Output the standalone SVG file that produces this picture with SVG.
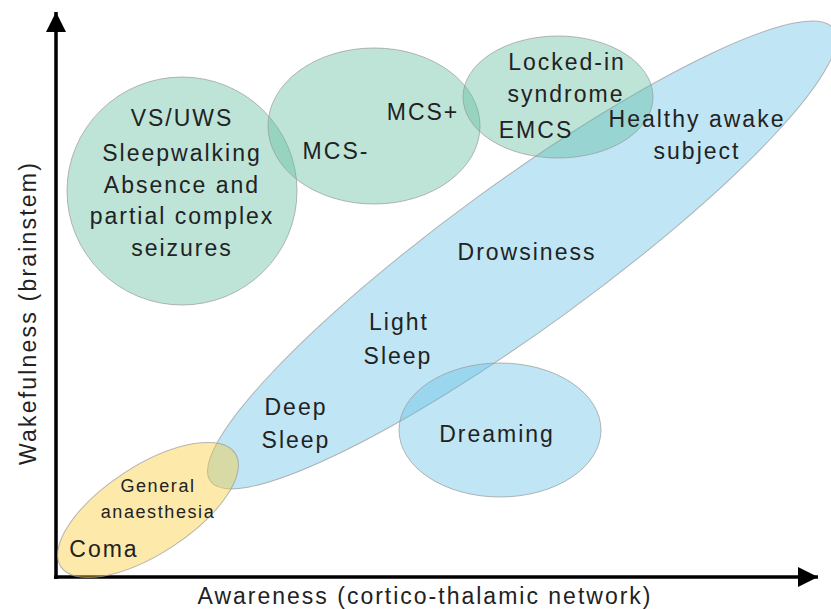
<svg xmlns="http://www.w3.org/2000/svg" width="831" height="609" viewBox="0 0 831 609">
<style>
.g{fill:#5dbc9e;fill-opacity:0.4;stroke:#999;stroke-width:1;stroke-opacity:0.7}
.b{fill:#62c1e6;fill-opacity:0.4;stroke:#999;stroke-width:1;stroke-opacity:0.7}
.y{fill:#fac82b;fill-opacity:0.4;stroke:#999;stroke-width:1;stroke-opacity:0.7}
text{font-family:"Liberation Sans",Arial,sans-serif;fill:#222;text-anchor:middle}
.t{font-size:23px;letter-spacing:2px}
.s{font-size:18px;letter-spacing:1.6px}
.ax{stroke:#000;stroke-width:3.5;fill:none}
</style>
<defs>
<marker id="ah" viewBox="0 0 10 10" refX="10" refY="5" markerWidth="20" markerHeight="22" markerUnits="userSpaceOnUse" orient="auto">
<path d="M0,0 L10,5 L0,10 Z" fill="#000"/>
</marker>
</defs>
<g id="axes">
<line class="ax" x1="56" y1="579" x2="56" y2="12" marker-end="url(#ah)"/>
<line class="ax" x1="54" y1="577" x2="818" y2="577" marker-end="url(#ah)"/>
</g>
<g id="healthy-band">
<ellipse class="b" cx="522" cy="255" rx="385" ry="73" transform="rotate(-36 522 255)"/>
</g>
<g id="vs-uws">
<ellipse class="g" cx="182" cy="191" rx="115" ry="114"/>
</g>
<g id="mcs">
<ellipse class="g" cx="374" cy="126" rx="106" ry="78"/>
</g>
<g id="locked-in">
<ellipse class="g" cx="558" cy="97" rx="95" ry="61"/>
</g>
<g id="dreaming">
<ellipse class="b" cx="500" cy="430" rx="101" ry="67"/>
</g>
<g id="anaesthesia">
<ellipse class="y" cx="148" cy="510" rx="104" ry="44" transform="rotate(-33 148 510)"/>
</g>
<g id="labels">
<text class="t" x="182" y="126">VS/UWS</text>
<text class="t" x="182" y="161">Sleepwalking</text>
<text class="t" x="182" y="193">Absence and</text>
<text class="t" x="182" y="224">partial complex</text>
<text class="t" x="182" y="256">seizures</text>
<text class="t" x="336" y="159">MCS-</text>
<text class="t" x="423" y="120">MCS+</text>
<text class="t" x="567" y="70">Locked-in</text>
<text class="t" x="566" y="102">syndrome</text>
<text class="t" x="536" y="138">EMCS</text>
<text class="t" x="697" y="127">Healthy awake</text>
<text class="t" x="697" y="159">subject</text>
<text class="t" x="527" y="260">Drowsiness</text>
<text class="t" x="399" y="330">Light</text>
<text class="t" x="398" y="364">Sleep</text>
<text class="t" x="296" y="415">Deep</text>
<text class="t" x="296" y="448">Sleep</text>
<text class="t" x="497" y="442">Dreaming</text>
<text class="s" x="158" y="492">General</text>
<text class="s" x="158" y="518">anaesthesia</text>
<text class="t" x="104" y="557">Coma</text>
<text class="t" x="425" y="604" style="letter-spacing:2px">Awareness (cortico-thalamic network)</text>
<text class="t" x="0" y="0" style="letter-spacing:2.2px" transform="translate(36 313) rotate(-90)">Wakefulness (brainstem)</text>
</g>
</svg>
